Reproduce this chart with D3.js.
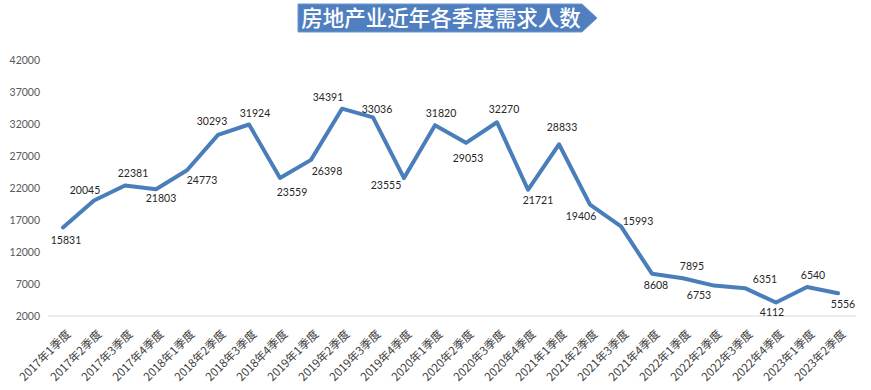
<!DOCTYPE html>
<html><head><meta charset="utf-8">
<script src="https://cdn.jsdelivr.net/npm/d3@7"></script>
<style>
body{margin:0;background:#fff;}
svg{display:block;}
</style></head>
<body><svg id="c" width="871" height="390"></svg>
<script>
const categories = ["2017年1季度","2017年2季度","2017年3季度","2017年4季度",
"2018年1季度","2018年2季度","2018年3季度","2018年4季度",
"2019年1季度","2019年2季度","2019年3季度","2019年4季度",
"2020年1季度","2020年2季度","2020年3季度","2020年4季度",
"2021年1季度","2021年2季度","2021年3季度","2021年4季度",
"2022年1季度","2022年2季度","2022年3季度","2022年4季度",
"2023年1季度","2023年2季度"];
const demand = [15831,20045,22381,21803,24773,30293,31924,23559,26398,34391,33036,23555,
31820,29053,32270,21721,28833,19406,15993,8608,7895,6753,6351,4112,6540,5556];
const yTicks = [2000,7000,12000,17000,22000,27000,32000,37000,42000];
const title = "房地产业近年各季度需求人数";
// label placement offsets (layout only)
const labelDx = [3,-9,8,5,15,-6,6,12,16,-14,4,-18,6,2,7,10,3,-9,17,4,9,-15,20,-4,6,5];
const labelDy = [13,-10,-12,9,10,-14,-11,14,11,-11,-8,7,-12,15,-13,11,-17,12,-5,12,-12,10,-9,10,-12,11];

const svg = d3.select("#c");
const x = d3.scalePoint().domain(categories).range([63, 838]);
const y = d3.scaleLinear().domain([2000, 42000]).range([316, 60]);

// title banner
const tg = svg.append("g");
tg.append("path")
  .attr("d","M298,4 L582,4 L597,18 L582,32 L298,32 Z")
  .attr("fill","#4f7fbf").attr("stroke","#6d97cf").attr("stroke-width",1);
tg.append("text").attr("x",441).attr("y",18).attr("dy","0.36em")
  .attr("text-anchor","middle").attr("fill","#fff")
  .attr("font-family","'Noto Sans CJK SC'").attr("font-weight",500)
  .attr("font-size",21.5).text(title);

// baseline
svg.append("line").attr("x1",48).attr("x2",856).attr("y1",y(2000)).attr("y2",y(2000))
  .attr("stroke","#d9d9d9").attr("stroke-width",1);

// y axis
const yAxis = d3.axisLeft(y).tickValues(yTicks).tickSize(0).tickPadding(0).tickFormat(d3.format("d"));
const ya = svg.append("g").attr("transform","translate(40,0)").call(yAxis);
ya.select(".domain").remove();
ya.selectAll("text").attr("font-family","Lato").attr("font-size",10.5).attr("fill","#595959");

// x axis
const xAxis = d3.axisBottom(x).tickSize(0).tickPadding(0);
const xa = svg.append("g").attr("transform","translate(0,"+y(2000)+")").call(xAxis);
xa.select(".domain").remove();
xa.selectAll("text")
  .attr("font-family","'Noto Sans CJK SC'").attr("font-size",11.5).attr("fill","#404040")
  .attr("text-anchor","end").attr("dy","0.35em")
  .attr("transform","translate(5,16) rotate(-45)");

// line
const line = d3.line().x((d,i)=>x(categories[i])).y(d=>y(d));
svg.append("path").datum(demand).attr("d",line)
  .attr("fill","none").attr("stroke","#4a7ebb").attr("stroke-width",4)
  .attr("stroke-linejoin","round").attr("stroke-linecap","round");

// data labels
svg.append("g").selectAll("text").data(demand).join("text")
  .attr("x",(d,i)=>x(categories[i])+labelDx[i])
  .attr("y",(d,i)=>y(d)+labelDy[i])
  .attr("dy","0.35em").attr("text-anchor","middle")
  .attr("font-family","Lato").attr("font-size",10.5).attr("fill","#262626")
  .text(d=>d);
</script></body></html>
